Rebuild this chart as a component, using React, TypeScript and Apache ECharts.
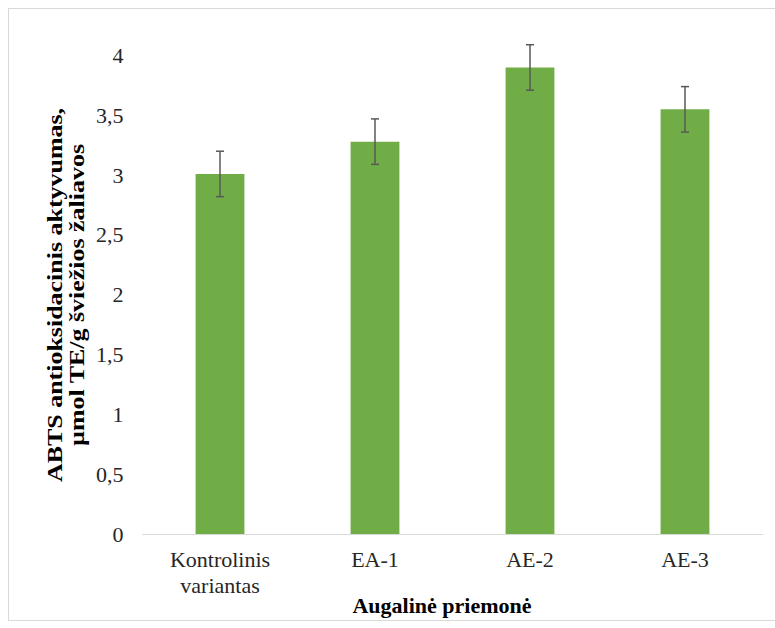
import React, { useEffect, useRef } from "react";
import * as echarts from "echarts";

// Treatment groups and measured ABTS activity (µmol TE/g fresh matter)
const categories = ["Kontrolinis\nvariantas", "EA-1", "AE-2", "AE-3"];
const means = [3.01, 3.28, 3.9, 3.55];
const errors = [0.19, 0.19, 0.19, 0.19];

const yTitleLines = ["ABTS antioksidacinis aktyvumas,", "µmol TE/g šviežios žaliavos"];
const xTitle = "Augalinė priemonė";

const FONT = "'Liberation Serif', 'Times New Roman', serif";

export default function App() {
  const ref = useRef<HTMLDivElement>(null);

  useEffect(() => {
    if (!ref.current) return;
    const chart = echarts.init(ref.current, undefined, { renderer: "svg" });

    const errorData = means.map((m, i) => [i, m - errors[i], m + errors[i]]);

    chart.setOption({
      animation: false,
      backgroundColor: "#ffffff",
      textStyle: { fontFamily: FONT },
      grid: { left: 133.5, right: 12.5, top: 46.5, bottom: 86, outerBoundsMode: "none" },
      xAxis: {
        type: "category",
        data: categories,
        axisLine: { lineStyle: { color: "#d9d9d9", width: 1 } },
        axisTick: { show: false },
        axisLabel: {
          color: "#262626",
          fontSize: 22,
          fontFamily: FONT,
          lineHeight: 26,
          margin: 12,
          interval: 0,
        },
      },
      yAxis: {
        type: "value",
        min: 0,
        max: 4,
        interval: 0.5,
        axisLine: { show: false },
        axisTick: { show: false },
        splitLine: { show: false },
        axisLabel: {
          color: "#262626",
          fontSize: 22,
          fontFamily: FONT,
          margin: 19,
          formatter: (v: number) => String(v).replace(".", ","),
        },
      },
      graphic: [
        {
          type: "text",
          x: 57,
          y: 286,
          rotation: Math.PI / 2,
          scaleX: 1.18,
          style: {
            text: yTitleLines.join("\n"),
            fill: "#000000",
            fontFamily: FONT,
            fontSize: 22,
            fontWeight: "bold",
            lineHeight: 22,
            align: "center",
            verticalAlign: "middle",
          },
        },
        {
          type: "text",
          x: 433,
          y: 596,
          style: {
            text: xTitle,
            fill: "#000000",
            fontFamily: FONT,
            fontSize: 22,
            fontWeight: "bold",
            align: "center",
            verticalAlign: "middle",
          },
        },
      ],
      series: [
        {
          type: "bar",
          data: means,
          barCategoryGap: "68.5%",
          itemStyle: { color: "#70ad47" },
        },
        {
          type: "custom",
          data: errorData,
          z: 10,
          renderItem: (params: any, api: any) => {
            const idx = api.value(0);
            const lo = api.coord([idx, api.value(1)]);
            const hi = api.coord([idx, api.value(2)]);
            const cap = 4;
            const style = { stroke: "#595959", lineWidth: 1.5 };
            return {
              type: "group",
              children: [
                { type: "line", shape: { x1: hi[0], y1: hi[1], x2: lo[0], y2: lo[1] }, style },
                { type: "line", shape: { x1: hi[0] - cap, y1: hi[1], x2: hi[0] + cap, y2: hi[1] }, style },
                { type: "line", shape: { x1: lo[0] - cap, y1: lo[1], x2: lo[0] + cap, y2: lo[1] }, style },
              ],
            };
          },
        },
      ],
    });

    return () => chart.dispose();
  }, []);

  return (
    <div
      style={{
        position: "absolute",
        left: 8,
        top: 8,
        width: 767,
        height: 613,
        boxSizing: "border-box",
        borderLeft: "1px solid #d9d9d9",
        borderTop: "1px solid #d9d9d9",
        borderBottom: "1px solid #d9d9d9",
        background: "#ffffff",
      }}
    >
      <div ref={ref} style={{ width: 766, height: 611 }} />
    </div>
  );
}
